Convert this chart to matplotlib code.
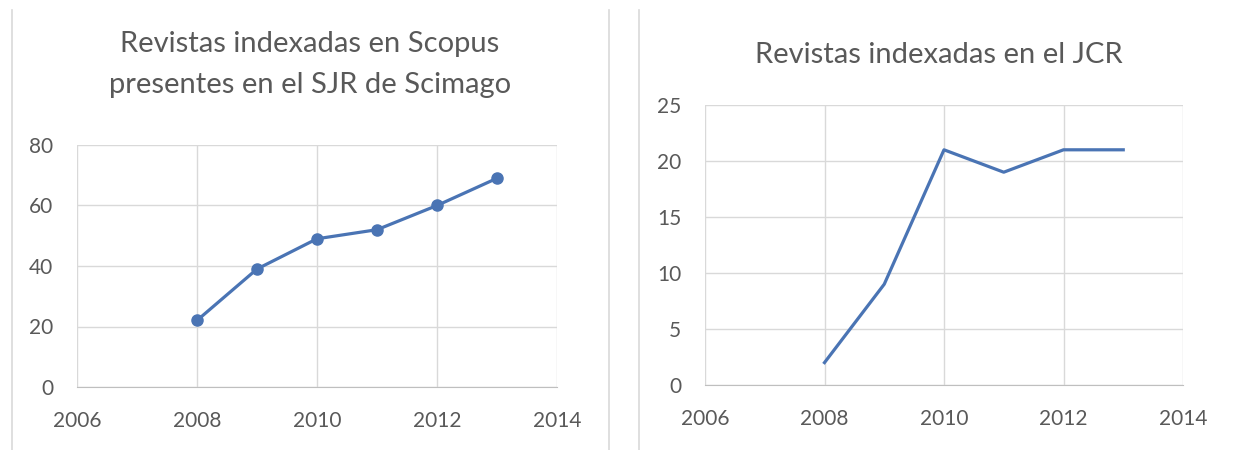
import matplotlib
matplotlib.use("Agg")
import matplotlib.pyplot as plt
from matplotlib.lines import Line2D

# Data
years_scopus = [2008, 2009, 2010, 2011, 2012, 2013]
scopus_sjr = [22, 39, 49, 52, 60, 69]

years_jcr = [2008, 2009, 2010, 2011, 2012, 2013]
jcr_journals = [2, 9, 21, 19, 21, 21]

x_ticks = [2006, 2008, 2010, 2012, 2014]
title_left = ["Revistas indexadas en Scopus", "presentes en el SJR de Scimago"]
title_right = "Revistas indexadas en el JCR"

plt.rcParams["font.family"] = ["Lato", "DejaVu Sans"]

line_color = "#4a74b4"
text_color = "#595959"
grid_color = "#d9d9d9"

fig = plt.figure(figsize=(12.41, 4.5), dpi=100)


def style_axes(ax, yticks):
    ax.set_xlim(2006, 2014)
    ax.set_xticks(x_ticks)
    ax.set_ylim(yticks[0], yticks[-1])
    ax.set_yticks(yticks)
    ax.grid(True, color=grid_color, linewidth=1)
    ax.set_axisbelow(True)
    for side in ["top", "right", "left"]:
        ax.spines[side].set_visible(False)
    ax.spines["bottom"].set_color("#bfbfbf")
    ax.tick_params(length=0, labelsize=15, labelcolor=text_color)
    ax.tick_params(axis="x", pad=17)
    ax.tick_params(axis="y", pad=17)


# Left chart: Scopus / SJR
ax1 = fig.add_axes([77 / 1241, 1 - 387 / 450, (557 - 77) / 1241, (387 - 145) / 450])
ax1.plot(years_scopus, scopus_sjr, color=line_color, linewidth=2.3,
         marker="o", markersize=8)
style_axes(ax1, [0, 20, 40, 60, 80])
fig.text(310 / 1241, 1 - 52 / 450, title_left[0], ha="center", va="baseline",
         fontsize=21, color=text_color)
fig.text(310 / 1241, 1 - 93 / 450, title_left[1], ha="center", va="baseline",
         fontsize=21, color=text_color)

# Right chart: JCR
ax2 = fig.add_axes([705 / 1241, 1 - 385 / 450, (1183 - 705) / 1241, (385 - 105) / 450])
ax2.plot(years_jcr, jcr_journals, color=line_color, linewidth=2.3)
style_axes(ax2, [0, 5, 10, 15, 20, 25])
fig.text(939 / 1241, 1 - 63 / 450, title_right, ha="center", va="baseline",
         fontsize=21, color=text_color)

# chart box borders
for xb in [12, 609, 639]:
    fig.add_artist(Line2D([xb / 1241, xb / 1241], [0, 1 - 10 / 450],
                          color="#d9d9d9", linewidth=1.2))

fig.savefig("out.png", dpi=100, facecolor="white")
